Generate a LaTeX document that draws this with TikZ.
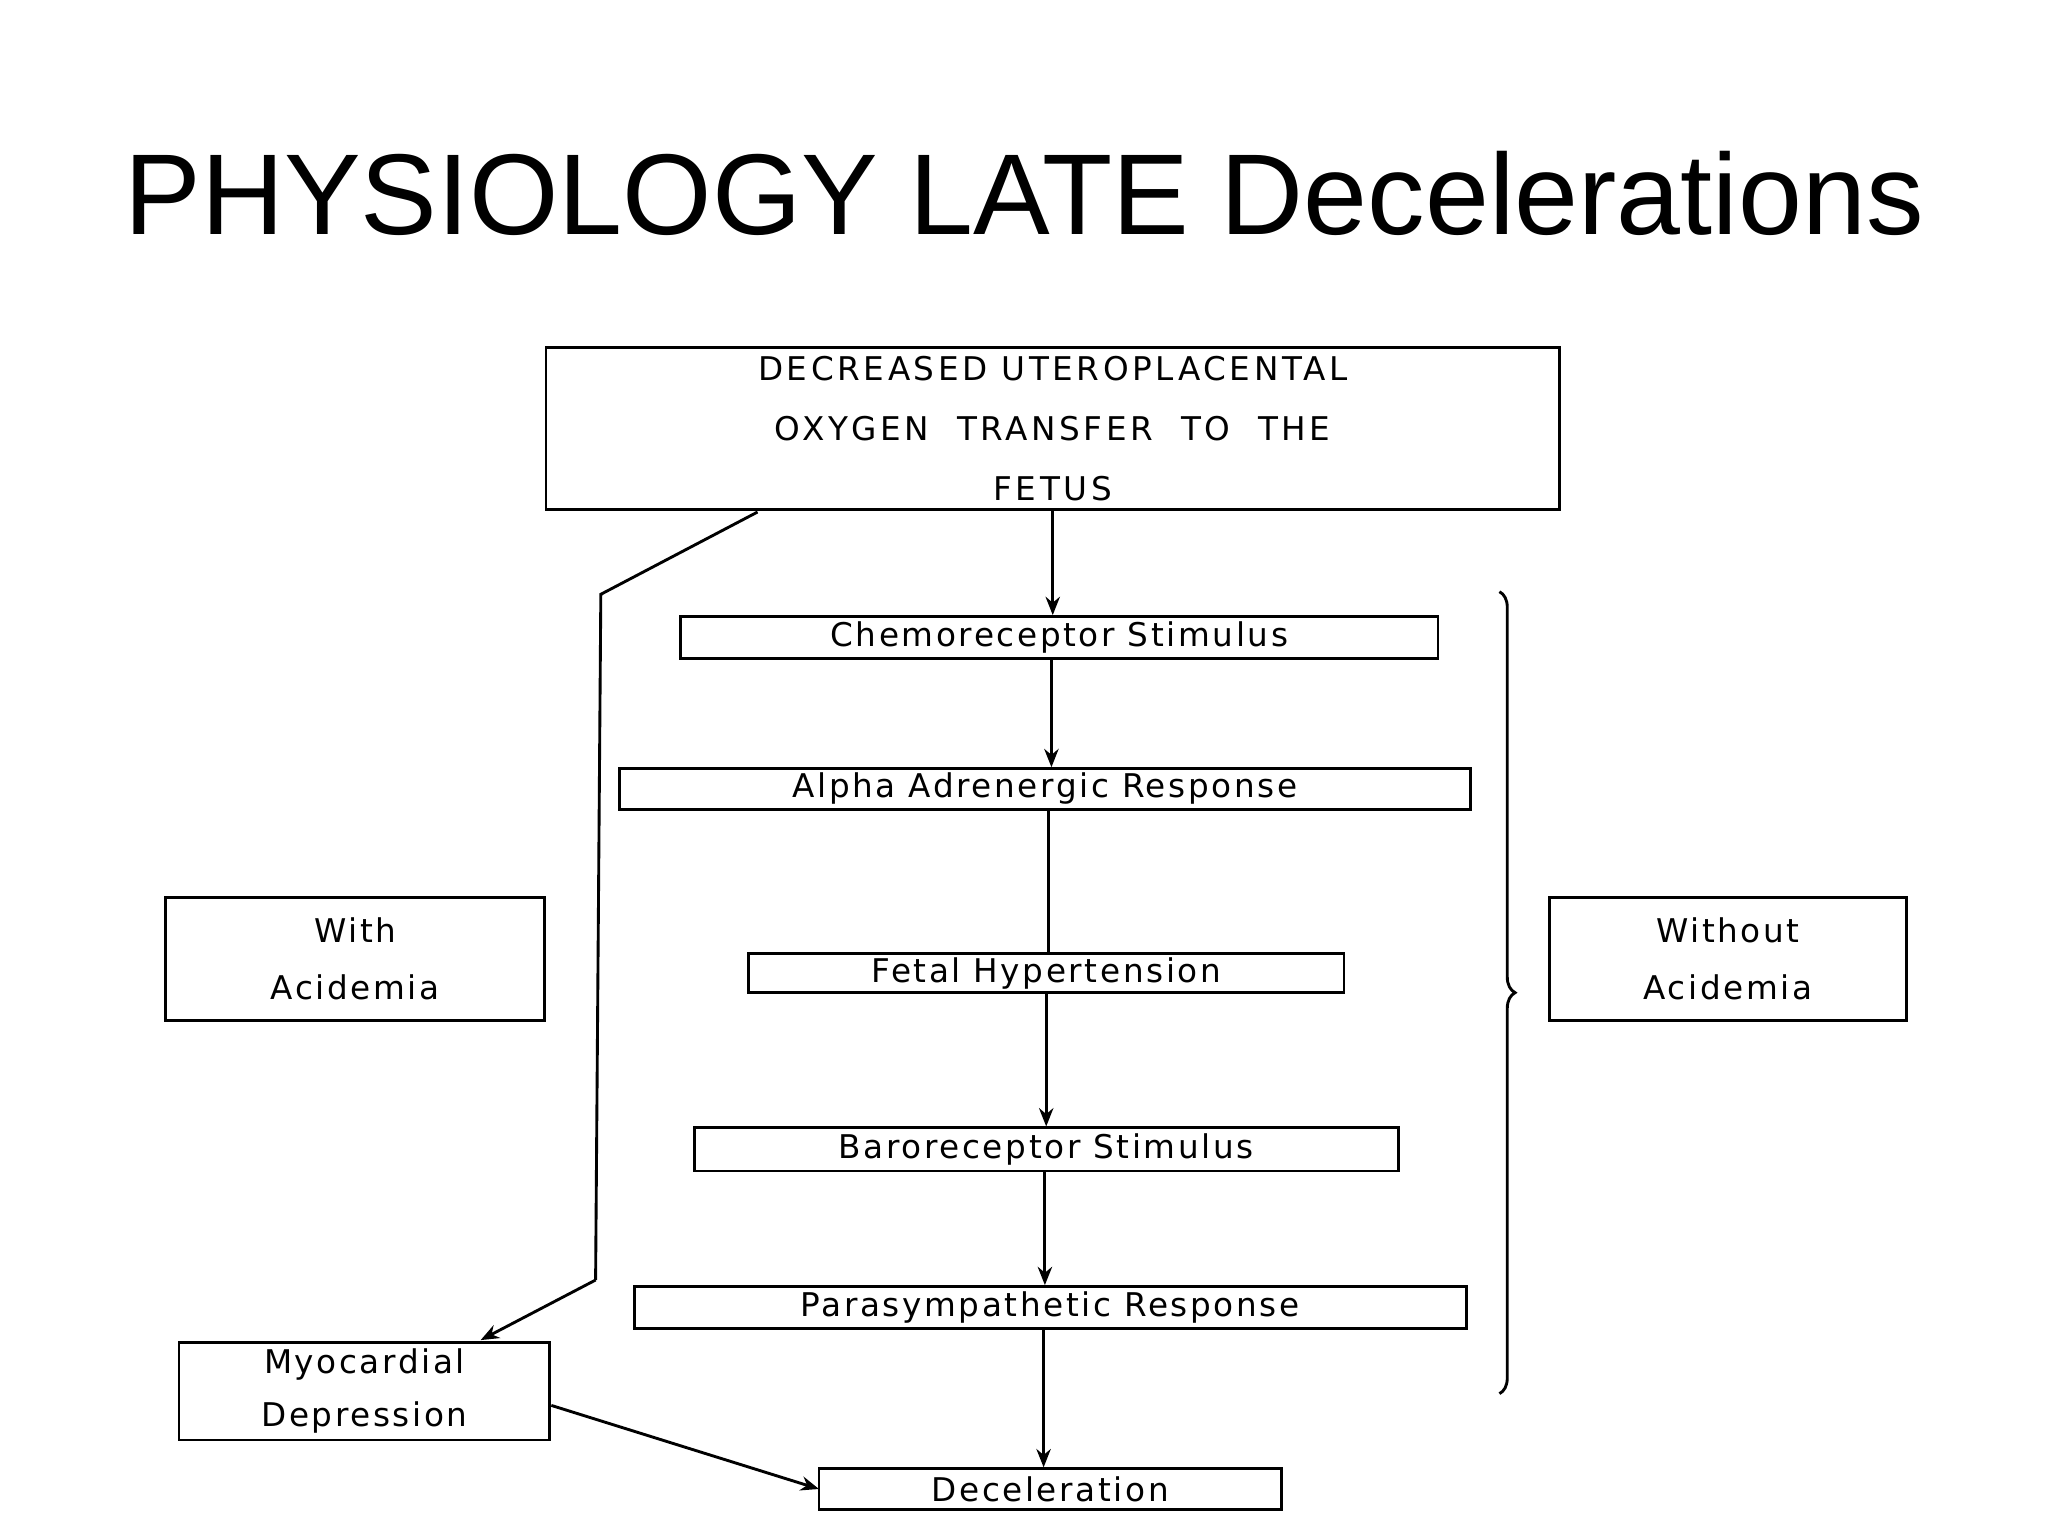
\documentclass[tikz,border=0pt]{standalone}
\usepackage{fontspec}
\setmainfont{Liberation Sans}
\newfontfamily\boxfont{DejaVu Sans}
\usetikzlibrary{decorations.pathreplacing,arrows.meta}
\begin{document}
\begin{tikzpicture}[x=1pt,y=-1pt,
  bx/.style={draw,line width=2.2pt,inner sep=0pt,align=center,font=\boxfont\fontsize{25}{44}\selectfont\addfontfeature{LetterSpace=8}},
  arr/.style={line width=2.2pt,-{Stealth[length=14pt,width=11pt]}},
  ln/.style={line width=2.2pt}]
\useasboundingbox[fill=white] (0,0) rectangle (1568,1176);
\node[font=\fontsize{88}{90}\selectfont] (title) at (784,148) {PHYSIOLOGY LATE Decelerations};
\node[bx,minimum width=776,minimum height=124,font=\boxfont\fontsize{25}{46}\selectfont\addfontfeature{LetterSpace=11}] (top) at (806,328) {DECREASED UTEROPLACENTAL\\OXYGEN\ \ TRANSFER\ \ TO\ \ THE\\FETUS};
\node[bx,minimum width=580,minimum height=32] (chemo) at (811,488) {Chemoreceptor Stimulus};
\node[bx,minimum width=652,minimum height=31] (alpha) at (800,604) {Alpha Adrenergic Response};
\node[bx,minimum width=456,minimum height=30] (fetal) at (801,745) {Fetal Hypertension};
\node[bx,minimum width=539,minimum height=33] (baro) at (801,880) {Baroreceptor Stimulus};
\node[bx,minimum width=637,minimum height=32] (para) at (804,1001) {Parasympathetic Response};
\node[bx,minimum width=354,minimum height=31] (dec) at (804,1140) {Deceleration};
\node[bx,minimum width=290,minimum height=94] (with) at (272,734) {With\\Acidemia};
\node[bx,minimum width=273,minimum height=94] (without) at (1323,734) {Without\\Acidemia};
\node[bx,minimum width=284,minimum height=75,font=\boxfont\fontsize{25}{40}\selectfont\addfontfeature{LetterSpace=8}] (myo) at (279,1065) {Myocardial\\Depression};
\draw[arr] (806,390) -- (chemo.north -| 806,0);
\draw[arr] (805,504) -- (alpha.north -| 805,0);
\draw[ln] (803,620) -- (fetal.north -| 803,0);
\draw[arr] (801,760) -- (baro.north -| 801,0);
\draw[arr] (800,896) -- (para.north -| 800,0);
\draw[arr] (799,1017) -- (dec.north -| 799,0);
\coordinate (s) at (580,392);
\coordinate (k1) at (460,455);
\coordinate (k2) at (456,980);
\draw[ln] (s) -- (k1) -- (k2);
\draw[arr] (k2) -- (368,1026);
\draw[arr] (myo.east |- 0,1076) -- (627,1140);
\draw[ln,decorate,decoration={brace,amplitude=12pt}] (1148,453) -- (1148,1067);
\end{tikzpicture}
\end{document}
